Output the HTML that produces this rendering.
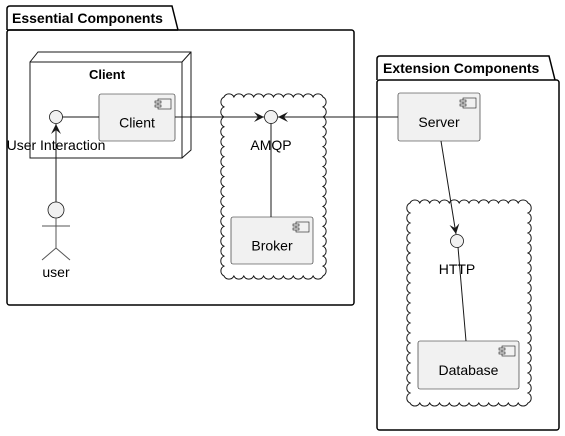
<!DOCTYPE html>
<html><head><meta charset="utf-8"><style>
html,body{margin:0;padding:0;background:#fff;}
svg{display:block;font-family:"Liberation Sans",sans-serif;}
</style></head><body>
<svg id="s" width="565" height="436" viewBox="0 0 565 436" xmlns="http://www.w3.org/2000/svg">
<defs>
<marker id="ar" markerWidth="12" markerHeight="10" refX="10" refY="5" orient="auto" markerUnits="userSpaceOnUse">
<path d="M0,0 L10,5 L0,10 L4,5 Z" fill="#181818"/>
</marker>
</defs>
<path d="M7,30 L7,9 Q7,6 10,6 L172,6 L178,30" fill="none" stroke="#000" stroke-width="1.5"/>
<rect x="7" y="30" width="347" height="275" rx="2.5" fill="none" stroke="#000" stroke-width="1.5"/>
<line x1="7" y1="30" x2="178" y2="30" stroke="#000" stroke-width="1.5"/>
<text x="12" y="23" font-size="14" font-weight="bold">Essential Components</text>
<path d="M377,80 L377,59 Q377,56 380,56 L549,56 L555,80" fill="none" stroke="#000" stroke-width="1.5"/>
<rect x="377" y="80" width="182" height="350" rx="2.5" fill="none" stroke="#000" stroke-width="1.5"/>
<text x="383" y="73" font-size="14" font-weight="bold">Extension Components</text>
<path d="M30,62 L38,52 L191,52 L191,150 L182,158" fill="none" stroke="#181818" stroke-width="1"/>
<line x1="182" y1="62" x2="191" y2="52" stroke="#181818"/>
<rect x="30" y="62" width="152" height="96" fill="none" stroke="#181818"/>
<text x="107" y="79" font-size="13" font-weight="bold" text-anchor="middle">Client</text>
<path id="c1" fill="none" stroke="#181818" stroke-width="1"/>
<path id="c2" fill="none" stroke="#181818" stroke-width="1"/>
<line x1="62" y1="117" x2="99" y2="117" stroke="#181818"/>
<line x1="175" y1="117" x2="264" y2="117" stroke="#181818" marker-end="url(#ar)"/>
<line x1="398" y1="117" x2="278" y2="117" stroke="#181818" marker-end="url(#ar)"/>
<line x1="271" y1="123" x2="271" y2="217" stroke="#181818"/>
<line x1="56" y1="202" x2="56" y2="124" stroke="#181818" marker-end="url(#ar)"/>
<line x1="441" y1="141" x2="456" y2="234" stroke="#181818" marker-end="url(#ar)"/>
<line x1="458" y1="247" x2="466" y2="341" stroke="#181818"/>
<circle cx="56" cy="117" r="6.5" fill="#f1f1f1" stroke="#181818" stroke-width="0.8"/>
<circle cx="271" cy="117" r="6.5" fill="#f1f1f1" stroke="#181818" stroke-width="0.8"/>
<circle cx="457" cy="241" r="6.5" fill="#f1f1f1" stroke="#181818" stroke-width="0.8"/>
<text x="56" y="150" font-size="14" text-anchor="middle">User Interaction</text>
<text x="271" y="150" font-size="14" text-anchor="middle">AMQP</text>
<text x="457" y="274" font-size="14" text-anchor="middle">HTTP</text>
<g id="comps"></g>
<circle cx="56" cy="210" r="8" fill="#f1f1f1" stroke="#181818" stroke-width="0.8"/>
<g stroke="#555" stroke-width="1" fill="none">
<line x1="56" y1="218" x2="56" y2="248"/>
<line x1="42" y1="226" x2="70" y2="226"/>
<path d="M42,260 L56,248 L70,260"/>
</g>
<text x="56" y="277" font-size="14" text-anchor="middle">user</text>
</svg>
<script>
function cloud(x1,y1,x2,y2){
  var step=10;
  function edge(ax,ay,bx,by){
    var L=Math.hypot(bx-ax,by-ay), n=Math.max(1,Math.round(L/step));
    var s="";
    for(var i=1;i<=n;i++){
      var px=ax+(bx-ax)*i/n, py=ay+(by-ay)*i/n;
      s+=" A5.5,5.5 0 0 1 "+px.toFixed(1)+","+py.toFixed(1);
    }
    return s;
  }
  var d="M"+(x1+8)+","+(y1+8);
  d+=edge(x1+8,y1+8,x2-8,y1+8);
  d+=edge(x2-8,y1+8,x2-8,y2-8);
  d+=edge(x2-8,y2-8,x1+8,y2-8);
  d+=edge(x1+8,y2-8,x1+8,y1+8);
  return d+"Z";
}
document.getElementById("c1").setAttribute("d",cloud(216,89,331,284));
document.getElementById("c2").setAttribute("d",cloud(402,195,536,411));
var comps=[[99,94,76,47,"Client"],[231,217,82,47,"Broker"],[398,93,82,48,"Server"],[418,341,101,48,"Database"]];
var g=document.getElementById("comps"),h="";
comps.forEach(function(c){
  var x=c[0],y=c[1],w=c[2],hh=c[3];
  h+='<rect x="'+x+'" y="'+y+'" width="'+w+'" height="'+hh+'" rx="2" fill="#f1f1f1" stroke="#181818" stroke-width="0.6"/>';
  var ix=x+w-20, iy=y+5;
  h+='<rect x="'+(ix+3)+'" y="'+iy+'" width="13" height="10" fill="#f1f1f1" stroke="#181818" stroke-width="0.6"/>';
  h+='<rect x="'+ix+'" y="'+(iy+2)+'" width="6" height="2" fill="#f1f1f1" stroke="#181818" stroke-width="0.6"/>';
  h+='<rect x="'+ix+'" y="'+(iy+6)+'" width="6" height="2" fill="#f1f1f1" stroke="#181818" stroke-width="0.6"/>';
  h+='<text x="'+(x+w/2)+'" y="'+(y+hh/2+10)+'" font-size="14" text-anchor="middle">'+c[4]+'</text>';
});
g.innerHTML=h;
</script>
</body></html>
